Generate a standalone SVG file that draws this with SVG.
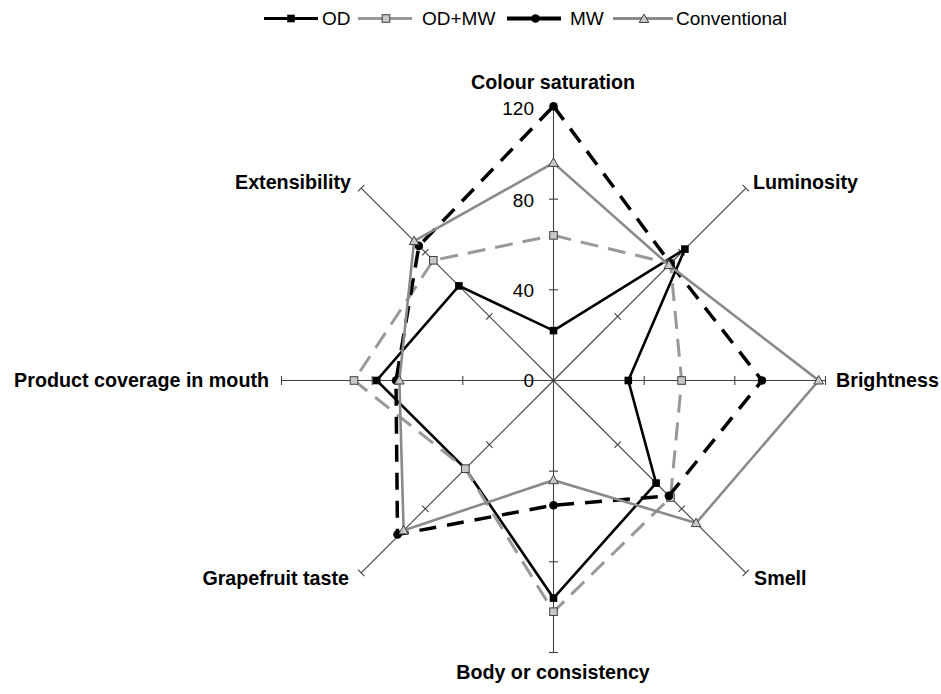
<svg xmlns="http://www.w3.org/2000/svg" xmlns:xlink="http://www.w3.org/1999/xlink" width="941" height="694" viewBox="0 0 941 694">
<style>
.axis{stroke:#404040;stroke-width:1.1;fill:none}
.lbl{font-family:"Liberation Sans",Arial,sans-serif;font-weight:bold;font-size:19.7px;fill:#000}
.num{font-family:"Liberation Sans",Arial,sans-serif;font-size:19px;fill:#000;text-anchor:end}
.leg{font-family:"Liberation Sans",Arial,sans-serif;font-size:19px;fill:#000}
.od{stroke:#000;stroke-width:2.6;fill:none;stroke-linejoin:miter}
.odmw{stroke:#999;stroke-width:3;fill:none;stroke-dasharray:18 10}
.mw{stroke:#000;stroke-width:3.5;fill:none;stroke-dasharray:17 11}
.conv{stroke:#8a8a8a;stroke-width:2.6;fill:none}
.mk-od{fill:#000}
.mk-odmw{fill:#c8c8c8;stroke:#404040;stroke-width:1}
.mk-mw{fill:#000}
.mk-conv{fill:#c8c8c8;stroke:#404040;stroke-width:1}
</style>
<defs>
<g id="ax">
<line class="axis" x1="553.5" y1="380.5" x2="553.5" y2="108.5"/>
<line class="axis" x1="549" y1="289.8" x2="558" y2="289.8"/>
<line class="axis" x1="549" y1="199.2" x2="558" y2="199.2"/>
<line class="axis" x1="549" y1="108.5" x2="558" y2="108.5"/>
</g>
<rect id="sq" class="mk-od" x="-3.8" y="-3.8" width="7.6" height="7.6"/>
<rect id="sq2" class="mk-odmw" x="-3.8" y="-3.8" width="7.6" height="7.6"/>
<circle id="ci" class="mk-mw" r="4.3"/>
<polygon id="tr" class="mk-conv" points="0,-5 4.8,3.5 -4.8,3.5"/>
</defs>

<g id="axes">
<use xlink:href="#ax"/>
<use xlink:href="#ax" transform="rotate(45 553.5 380.5)"/>
<use xlink:href="#ax" transform="rotate(90 553.5 380.5)"/>
<use xlink:href="#ax" transform="rotate(135 553.5 380.5)"/>
<use xlink:href="#ax" transform="rotate(180 553.5 380.5)"/>
<use xlink:href="#ax" transform="rotate(225 553.5 380.5)"/>
<use xlink:href="#ax" transform="rotate(270 553.5 380.5)"/>
<use xlink:href="#ax" transform="rotate(315 553.5 380.5)"/>
</g>

<g id="scale">
<text class="num" x="534" y="115">120</text>
<text class="num" x="534" y="206.5">80</text>
<text class="num" x="534" y="296.5">40</text>
<text class="num" x="534" y="387">0</text>
</g>

<g id="labels">
<text id="l-colour" class="lbl" x="553" y="89" text-anchor="middle">Colour saturation</text>
<text id="l-lum" class="lbl" x="753" y="189">Luminosity</text>
<text id="l-bright" class="lbl" x="836" y="387">Brightness</text>
<text id="l-smell" class="lbl" x="754" y="585">Smell</text>
<text id="l-body" class="lbl" x="553" y="679" text-anchor="middle">Body or consistency</text>
<text id="l-grape" class="lbl" x="349" y="585" text-anchor="end">Grapefruit taste</text>
<text id="l-cov" class="lbl" x="269" y="387" text-anchor="end">Product coverage in mouth</text>
<text id="l-ext" class="lbl" x="351" y="189" text-anchor="end">Extensibility</text>
</g>

<g id="series-od">
<polygon class="od" points="553.5,330.6 684.9,249.1 628.3,380.5 656.1,483.1 553.5,598.1 465.3,468.7 376.7,380.5 458.9,285.9"/>
<use xlink:href="#sq" x="553.5" y="330.6"/><use xlink:href="#sq" x="684.9" y="249.1"/><use xlink:href="#sq" x="628.3" y="380.5"/><use xlink:href="#sq" x="656.1" y="483.1"/><use xlink:href="#sq" x="553.5" y="598.1"/><use xlink:href="#sq" x="465.3" y="468.7"/><use xlink:href="#sq" x="376.7" y="380.5"/><use xlink:href="#sq" x="458.9" y="285.9"/>
</g>
<g id="series-odmw">
<polygon class="odmw" points="553.5,235.4 670.5,263.5 681.6,380.5 670.5,497.5 553.5,611.7 465.3,468.7 354,380.5 433.3,260.3"/>
<use xlink:href="#sq2" x="553.5" y="235.4"/><use xlink:href="#sq2" x="670.5" y="263.5"/><use xlink:href="#sq2" x="681.6" y="380.5"/><use xlink:href="#sq2" x="670.5" y="497.5"/><use xlink:href="#sq2" x="553.5" y="611.7"/><use xlink:href="#sq2" x="465.3" y="468.7"/><use xlink:href="#sq2" x="354" y="380.5"/><use xlink:href="#sq2" x="433.3" y="260.3"/>
</g>
<g id="series-mw">
<polygon class="mw" points="553.5,106.2 670.5,263.5 762,380.5 668.9,495.9 553.5,505.2 397.5,534.5 396,380.5 418.9,245.9"/>
<use xlink:href="#ci" x="553.5" y="106.2"/><use xlink:href="#ci" x="670.5" y="263.5"/><use xlink:href="#ci" x="762" y="380.5"/><use xlink:href="#ci" x="668.9" y="495.9"/><use xlink:href="#ci" x="553.5" y="505.2"/><use xlink:href="#ci" x="397.5" y="534.5"/><use xlink:href="#ci" x="396" y="380.5"/><use xlink:href="#ci" x="418.9" y="245.9"/>
</g>
<g id="series-conv">
<polygon class="conv" points="553.5,162.9 668.9,265.1 818.7,380.5 696.1,523.1 553.5,480.2 403.6,530.4 399.4,380.5 414.1,241.1"/>
<use xlink:href="#tr" x="553.5" y="162.9"/><use xlink:href="#tr" x="668.9" y="265.1"/><use xlink:href="#tr" x="818.7" y="380.5"/><use xlink:href="#tr" x="696.1" y="523.1"/><use xlink:href="#tr" x="553.5" y="480.2"/><use xlink:href="#tr" x="403.6" y="530.4"/><use xlink:href="#tr" x="399.4" y="380.5"/><use xlink:href="#tr" x="414.1" y="241.1"/>
</g>

<g id="legend">
<line x1="264" y1="18.5" x2="318" y2="18.5" stroke="#000" stroke-width="3"/>
<use xlink:href="#sq" x="291" y="18.5"/>
<text class="leg" x="322" y="25">OD</text>
<line x1="358" y1="18.5" x2="412" y2="18.5" stroke="#999" stroke-width="3"/>
<use xlink:href="#sq2" x="386" y="18.5"/>
<text class="leg" x="422" y="25">OD+MW</text>
<line x1="507" y1="18.5" x2="561" y2="18.5" stroke="#000" stroke-width="3.8"/>
<use xlink:href="#ci" x="535.5" y="18.5"/>
<text class="leg" x="570" y="25">MW</text>
<line x1="613" y1="18.5" x2="673" y2="18.5" stroke="#8a8a8a" stroke-width="3"/>
<use xlink:href="#tr" x="644" y="19"/>
<text class="leg" x="676" y="25">Conventional</text>
</g>
</svg>
